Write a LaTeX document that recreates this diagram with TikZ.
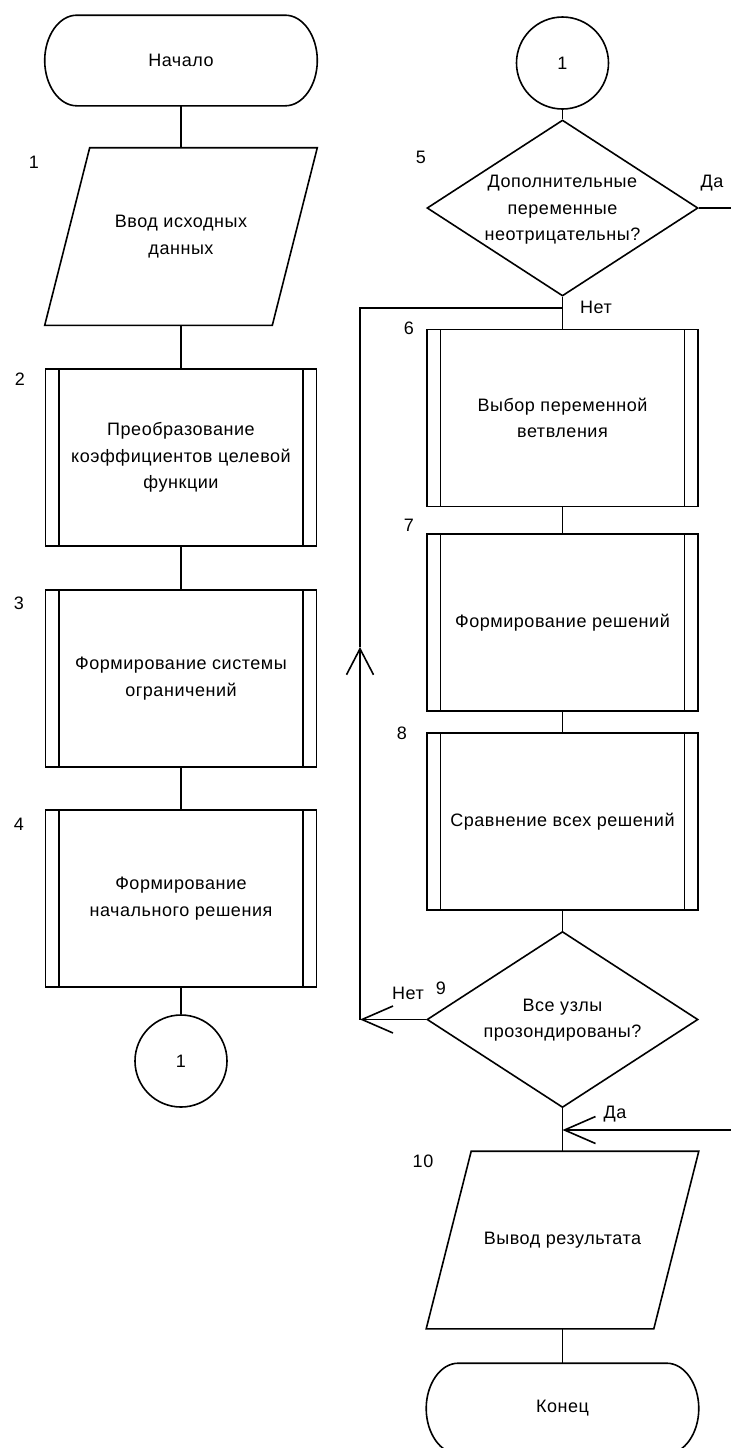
\documentclass[tikz,border=0pt]{standalone}
\usepackage{fontspec}
\setmainfont{Liberation Sans}[LetterSpace=3]
\usetikzlibrary{shapes.geometric,arrows.meta}
\begin{document}
\begin{tikzpicture}[x=0.5pt,y=-0.5pt,line width=0.8pt,
  every node/.style={font=\fontsize{9pt}{13.25pt}\selectfont,align=center},
  term/.style={minimum width=135.5pt,minimum height=44.5pt,inner sep=0pt},
  subproc/.style={draw,minimum width=135.5pt,minimum height=88.5pt,inner sep=0pt,
    path picture={\draw[line width=0.8pt]
      ([xshift=6.75pt]path picture bounding box.north west) -- ([xshift=6.75pt]path picture bounding box.south west)
      ([xshift=-6.75pt]path picture bounding box.north east) -- ([xshift=-6.75pt]path picture bounding box.south east);}},
  io/.style={minimum width=113pt,minimum height=88pt,inner sep=0pt},
  decision/.style={draw,diamond,minimum width=135.5pt,minimum height=88pt,inner sep=0pt},
  conn/.style={draw,circle,minimum size=46pt,inner sep=0pt},
  num/.style={inner sep=0pt},
  barb/.style={-{Straight Barb[length=15.5pt,width=13.5pt]}},
  barbup/.style={-{Straight Barb[length=13pt,width=13.5pt]}}
]
\useasboundingbox (0,0) rectangle (731,1448);

% ---- left column ----
\node[term] (start) at (181,60.5) {Начало};
\node[io] (in1) at (181,236.5) {Ввод исходных\\данных};
\node[subproc] (p2) at (181,457.5) {Преобразование\\коэффициентов целевой\\функции};
\node[subproc] (p3) at (181,678.5) {Формирование системы\\ограничений};
\node[subproc] (p4) at (181,898.5) {Формирование\\начального решения};
\node[conn] (c1) at (181,1061) {1};

% ---- right column ----
\node[conn] (c1r) at (562.5,63) {1};
\node[decision] (d5) at (562.5,208) {};
\node (t5) at (562.5,210) {Дополнительные\\переменные\\неотрицательны?};
\node[subproc] (p6) at (562.5,418) {Выбор переменной\\ветвления};
\node[subproc] (p7) at (562.5,622.5) {Формирование решений};
\node[subproc] (p8) at (562.5,821.5) {Сравнение всех решений};
\node[decision] (d9) at (562.5,1019.5) {};
\node (t9) at (562.5,1020) {Все узлы\\прозондированы?};
\node[io] (out10) at (562.5,1240) {Вывод результата};
\node[term] (end) at (562.5,1408.5) {Конец};

% terminal outlines with flattened round ends
\foreach \t in {start,end}{
  \draw ([xshift=16pt]\t.north west) -- ([xshift=-16pt]\t.north east)
    .. controls ([xshift=-7.16pt]\t.north east) and ([yshift=12.29pt]\t.east) .. (\t.east)
    .. controls ([yshift=-12.29pt]\t.east) and ([xshift=-7.16pt]\t.south east) .. ([xshift=-16pt]\t.south east)
    -- ([xshift=16pt]\t.south west)
    .. controls ([xshift=7.16pt]\t.south west) and ([yshift=-12.29pt]\t.west) .. (\t.west)
    .. controls ([yshift=12.29pt]\t.west) and ([xshift=7.16pt]\t.north west) .. ([xshift=16pt]\t.north west) -- cycle;
}
% data parallelograms
\foreach \t in {in1,out10}{
  \draw ([xshift=11.25pt]\t.north west) -- ([xshift=11.25pt]\t.north east)
    -- ([xshift=-11.25pt]\t.south east) -- ([xshift=-11.25pt]\t.south west) -- cycle;
}

% block numbers
\node[num] (n1) at (34,162) {1};
\node[num] (n2) at (20,379) {2};
\node[num] (n3) at (19,603) {3};
\node[num] (n4) at (19,824) {4};
\node[num] (n5) at (421,157) {5};
\node[num] (n6) at (409,328) {6};
\node[num] (n7) at (409,525) {7};
\node[num] (n8) at (402,733) {8};
\node[num] (n9) at (441,988) {9};
\node[num] (n10) at (423,1161) {10};

% left column flow
\draw (start) -- (in1);
\draw (in1) -- (p2);
\draw (p2) -- (p3);
\draw (p3) -- (p4);
\draw (p4) -- (c1);

% right column flow
\draw (c1r) -- (d5);
\draw (d5) -- (p6);
\draw (p6) -- (p7);
\draw (p7) -- (p8);
\draw (p8) -- (d9);
\draw (d9) -- (out10);
\draw (out10) -- (end);

% "yes" exit of block 5
\coordinate (yes5) at (731,208);
\draw (d5.east) -- (yes5);
\node[num] (lyes5) at (712,183) {Да};
\node[num] (lno5) at (596,307) {Нет};

% "no" loop of block 9 back to the branch point under block 5
\coordinate (loopB) at (360,1019.5);
\coordinate (loopM) at (360,647);
\coordinate (loopT) at (360,308);
\coordinate (join6) at (562.5,308);
\draw[barb] (d9.west) -- (loopB);
\draw[barbup] (loopB) -- (loopM);
\draw (loopM) -- (loopT) -- (join6);
\node[num] (lno9) at (408,993) {Нет};

% incoming "yes" line above block 10
\coordinate (yesIn) at (731,1130);
\coordinate (join10) at (562.5,1130);
\draw[barb] (yesIn) -- (join10);
\node[num] (lyes9) at (615,1114) {Да};
\end{tikzpicture}
\end{document}
